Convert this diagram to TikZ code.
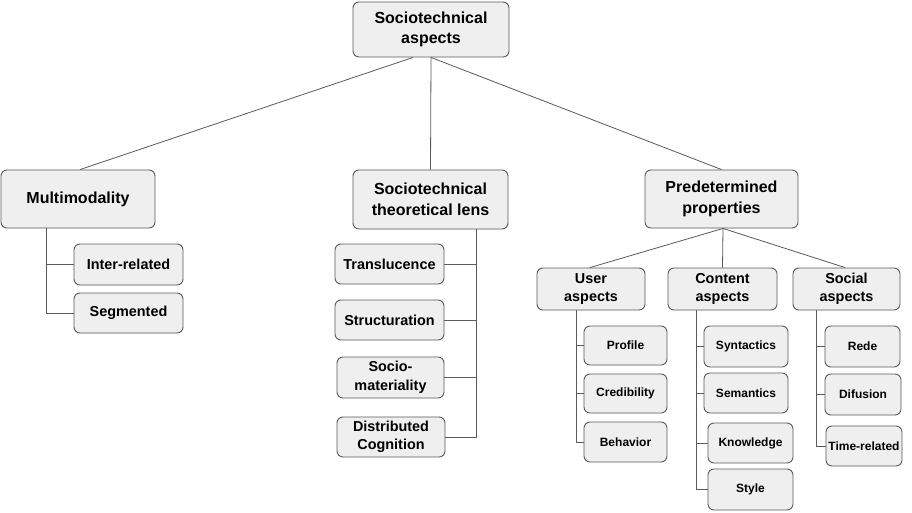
\documentclass[tikz,border=0pt]{standalone}
\usepackage{fontspec}
\setmainfont{Liberation Sans}
\definecolor{boxfill}{HTML}{EFEFEF}
\definecolor{boxdraw}{HTML}{5A5A5A}
\definecolor{linkcol}{HTML}{5A5A5A}
\begin{document}
\begin{tikzpicture}[x=1pt,y=-1pt,
  box/.style={draw=boxdraw, fill=boxfill, rounded corners=6pt, line width=0.9pt, align=center, inner sep=0pt},
  big/.style={box, font=\fontsize{16}{20.5}\selectfont\bfseries},
  mid/.style={box, font=\fontsize{14.4}{18.5}\selectfont\bfseries},
  small/.style={box, font=\fontsize{12}{14}\selectfont\bfseries},
  link/.style={draw=linkcol, line width=0.8pt}]
\fill[white] (0,0) rectangle (912,513);
\useasboundingbox (0,0) rectangle (912,513);
% top level
\node[big, minimum width=156pt, minimum height=55pt] (root) at (431,29.5) {Sociotechnical\\aspects};
\node[big, minimum width=154pt, minimum height=58pt] (multi) at (78,199) {Multimodality};
\node[big, minimum width=155pt, minimum height=59pt] (lens) at (430.5,199.5) {Sociotechnical\\theoretical lens};
\node[big, minimum width=153pt, minimum height=58pt] (pred) at (721.5,199) {Predetermined\\properties};
% multimodality children
\node[mid, minimum width=109pt, minimum height=41pt] (inter) at (128.5,264.5) {Inter-related};
\node[mid, minimum width=109pt, minimum height=40pt] (segm) at (128.5,313) {Segmented};
% lens children
\node[mid, minimum width=109pt, minimum height=40pt] (transl) at (389.5,264) {Translucence};
\node[mid, minimum width=109pt, minimum height=40pt] (struct) at (389.5,320) {Structuration};
\node[mid, minimum width=107pt, minimum height=41pt] (socio) at (390.5,377.5) {Socio-\\materiality};
\node[mid, minimum width=108pt, minimum height=40pt] (distr) at (391,437) {Distributed\\Cognition};
% predetermined children
\node[mid, minimum width=108pt, minimum height=42pt] (user) at (591,289) {User\\aspects};
\node[mid, minimum width=109pt, minimum height=42pt] (content) at (722.5,289) {Content\\aspects};
\node[mid, minimum width=107pt, minimum height=42pt] (social) at (846.5,289) {Social\\aspects};
% user children
\node[small, minimum width=83pt, minimum height=39pt] (profile) at (625.5,345.5) {Profile};
\node[small, minimum width=83pt, minimum height=39pt] (cred) at (625.5,393.5) {Credibility};
\node[small, minimum width=83pt, minimum height=40pt] (behav) at (625.5,442) {Behavior};
% content children
\node[small, minimum width=84pt, minimum height=41pt] (synt) at (746,346.5) {Syntactics};
\node[small, minimum width=84pt, minimum height=40pt] (sem) at (746,393) {Semantics};
\node[small, minimum width=85pt, minimum height=40pt] (know) at (750.5,443) {Knowledge};
\node[small, minimum width=85pt, minimum height=41pt] (style) at (750.5,489.5) {Style};
% social children
\node[small, minimum width=75pt, minimum height=41pt] (rede) at (862.5,346.5) {Rede};
\node[small, minimum width=76pt, minimum height=41pt] (difus) at (863,394.5) {Difusion};
\node[small, minimum width=76pt, minimum height=40pt] (time) at (864,446) {Time-related};
% connectors from root
\draw[link] ([xshift=-18pt]root.south) -- ([xshift=2pt]multi.north);
\draw[link] (root.south) -- (lens.north);
\draw[link] (root.south) -- (pred.north);
% connectors from pred
\draw[link] ([xshift=1.5pt]pred.south) -- ([xshift=-1pt]user.north);
\draw[link] ([xshift=1.5pt]pred.south) -- (content.north);
\draw[link] ([xshift=1.5pt]pred.south) -- ([xshift=-1.5pt]social.north);
% spines
\coordinate (mspine) at (46,228);
\draw[link] (mspine) |- (inter.west);
\draw[link] (mspine) |- (segm.west);
\coordinate (lspine) at (476,229);
\draw[link] (lspine) |- (transl.east);
\draw[link] (lspine) |- (struct.east);
\draw[link] (lspine) |- (socio.east);
\draw[link] (lspine) |- (distr.east);
\coordinate (uspine) at (576,310);
\draw[link] (uspine) |- (profile.west);
\draw[link] (uspine) |- (cred.west);
\draw[link] (uspine) |- (behav.west);
\coordinate (cspine) at (696,310);
\draw[link] (cspine) |- (synt.west);
\draw[link] (cspine) |- (sem.west);
\draw[link] (cspine) |- (know.west);
\draw[link] (cspine) |- (style.west);
\coordinate (sspine) at (816,310);
\draw[link] (sspine) |- (rede.west);
\draw[link] (sspine) |- (difus.west);
\draw[link] (sspine) |- (time.west);
\end{tikzpicture}
\end{document}
